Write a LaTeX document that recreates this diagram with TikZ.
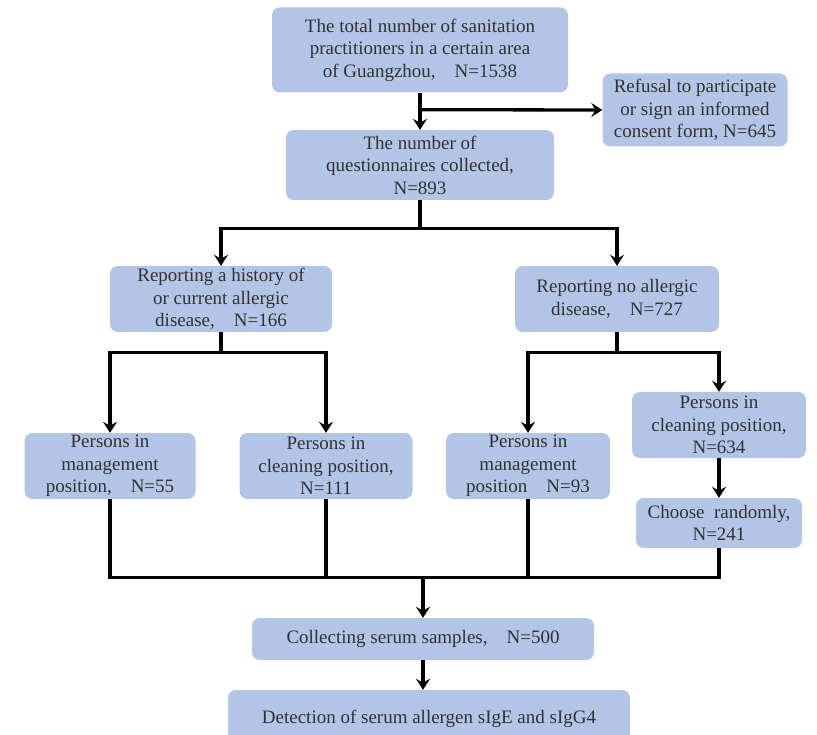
\documentclass[tikz,border=0pt]{standalone}
\usepackage{fontspec}
\setmainfont{Liberation Serif}
\usetikzlibrary{positioning,arrows.meta}
\definecolor{boxblue}{RGB}{178,197,230}
\definecolor{textgray}{RGB}{50,50,50}

\begin{document}
\begin{tikzpicture}[on grid,
    box/.style={rectangle, rounded corners=8pt, fill=boxblue, text=textgray,
      align=center, inner sep=0pt, font=\fontsize{19}{22.5}\selectfont},
    line/.style={line width=3.3pt, black},
    arr/.style={line, -{Stealth[length=11pt,width=14pt,inset=4pt]}}]
   \useasboundingbox (0,0) rectangle (817pt,-735pt);
   \node[box, minimum width=296pt, minimum height=85pt] (total) at (420pt,-50pt)
      {The total number of sanitation\\practitioners in a certain area\\of Guangzhou,\quad N=1538};
   \node[box, minimum width=268pt, minimum height=70pt] (quest) [below=115pt of total]
      {The number of\\questionnaires collected,\\N=893};
   \node[box, minimum width=185pt, minimum height=73pt] (refuse) [below right=60pt and 275pt of total]
      {Refusal to participate\\or sign an informed\\consent form, N=645};
   \node[box, minimum width=222pt, minimum height=66pt] (hist) [below left=134pt and 199pt of quest]
      {Reporting a history of\\or current allergic\\disease,\quad N=166};
   \node[box, minimum width=204pt, minimum height=66pt] (noall) [below right=134pt and 197pt of quest]
      {Reporting no allergic\\disease,\quad N=727};
   \node[box, minimum width=171pt, minimum height=66pt] (mgmt1) [below left=167pt and 111pt of hist]
      {Persons in\\management\\position,\quad N=55};
   \node[box, minimum width=173pt, minimum height=66pt] (clean1) [below right=167pt and 105pt of hist]
      {Persons in\\cleaning position,\\N=111};
   \node[box, minimum width=164pt, minimum height=66pt] (mgmt2) [below left=167pt and 89pt of noall]
      {Persons in\\management\\position\quad N=93};
   \node[box, minimum width=174pt, minimum height=66pt] (clean2) [below right=126pt and 102pt of noall]
      {Persons in\\cleaning position,\\N=634};
   \node[box, minimum width=166pt, minimum height=50pt] (random) [below=98pt of clean2]
      {Choose\ \ randomly,\\N=241};
   \node[box, minimum width=342pt, minimum height=42pt] (collect) [below=474pt of quest, xshift=3pt]
      {Collecting serum samples,\quad N=500};
   \node[box, minimum width=402pt, minimum height=60pt] (detect) [below=81pt of collect, xshift=6pt]
      {\raisebox{7pt}{Detection of serum allergen sIgE and sIgG4}};

   % split points
   \coordinate (tbranch) at ([yshift=-17pt]total.south);
   \coordinate (qsplit) at ([yshift=-28pt]quest.south);
   \coordinate (hsplit) at ([yshift=-20pt]hist.south);
   \coordinate (nsplit) at ([yshift=-20pt]noall.south);
   \coordinate (merge) at ([yshift=40pt]collect.north);

   \draw[arr] (total) -- (quest);
   \draw[arr] (tbranch) -- (refuse.west);
   \draw[line] (quest) -- (qsplit);
   \draw[arr] (qsplit) -| (hist.north);
   \draw[arr] (qsplit) -| (noall.north);
   \draw[line] (hist) -- (hsplit);
   \draw[arr] (hsplit) -| (mgmt1.north);
   \draw[arr] (hsplit) -| (clean1.north);
   \draw[line] (noall) -- (nsplit);
   \draw[arr] (nsplit) -| (mgmt2.north);
   \draw[arr] (nsplit) -| (clean2.north);
   \draw[arr] (clean2) -- (random);
   \draw[line] (mgmt1.south) |- (merge);
   \draw[line] (clean1.south) |- (merge);
   \draw[line] (mgmt2.south) |- (merge);
   \draw[line] (random.south) |- (merge);
   \draw[arr] (merge) -- (collect);
   \draw[arr] (collect.south) -- (collect.south |- detect.north);
\end{tikzpicture}
\end{document}
